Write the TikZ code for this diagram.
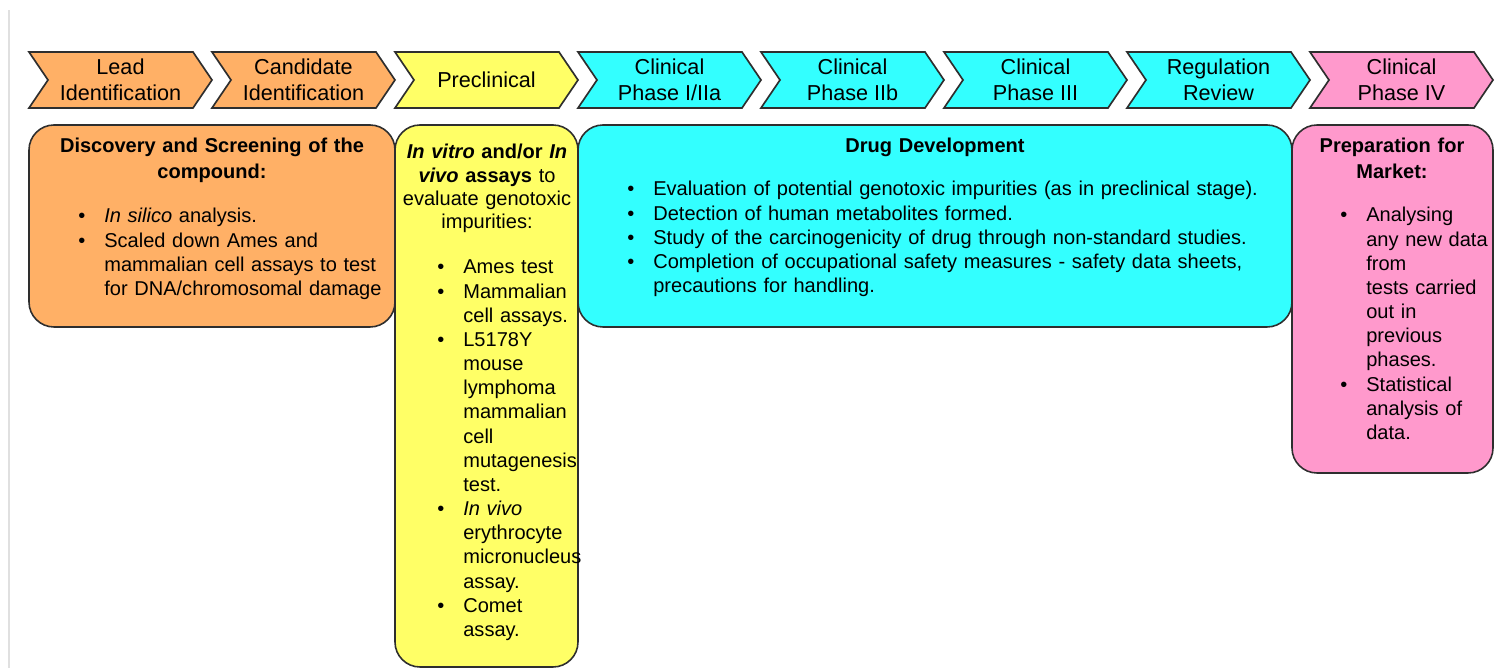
\documentclass[tikz,border=0pt]{standalone}
\usepackage{fontspec}
\setmainfont{Liberation Sans}
\usepackage{tikz}
\usetikzlibrary{positioning}
\definecolor{devOrange}{HTML}{FFB066}
\definecolor{devYellow}{HTML}{FFFF66}
\definecolor{devCyan}{HTML}{33FFFF}
\definecolor{devPink}{HTML}{FF99CC}
\definecolor{devEdge}{HTML}{2E2E2E}
\tikzset{
  ph/chevron/.style={draw=devEdge, line width=0.95pt, line join=miter},
  ph/label/.style={font=\fontsize{12.3}{14.7}\selectfont, align=center, inner sep=0pt},
  ph/box/.style={draw=devEdge, line width=0.9pt, rounded corners=0.5cm},
  ph/title/.style={font=\fontsize{11.4}{14.7}\selectfont\bfseries, align=center, inner sep=0pt, anchor=base},
  ph/list/.style={font=\fontsize{11.4}{13.75}\selectfont, align=left, inner sep=0pt, anchor=base west}
}
\newcommand\bul{\leavevmode\llap{\textbullet\hspace{0.38cm}}}

\begin{document}
\begin{tikzpicture}[x=0.02cm,y=-0.02cm]
\useasboundingbox (0,0) rectangle (1502,668);

\draw[black!12, line width=0.04cm] (9,10) -- (9,668);

\foreach \i/\lbl/\col in {0/{Lead\\Identification}/devOrange, 1/{Candidate\\Identification}/devOrange,
    2/{Preclinical}/devYellow, 3/{Clinical\\Phase I/IIa}/devCyan, 4/{Clinical\\Phase IIb}/devCyan,
    5/{Clinical\\Phase III}/devCyan, 6/{Regulation\\Review}/devCyan, 7/{Clinical\\Phase IV}/devPink} {
  \draw[ph/chevron, fill=\col, shift={(\i*183,0)}] (29,52) -- (193,52) -- (212,80) -- (193,108) -- (29,108) -- (48,80) -- cycle;
  \node[ph/label] (stage\i) at (120.5+\i*183,80) {\lbl};
}

\draw[ph/box, fill=devOrange] (29,125) rectangle (395,327);
\draw[ph/box, fill=devYellow] (395,125) rectangle (578,667);
\draw[ph/box, fill=devCyan] (578,125) rectangle (1292,327);
\draw[ph/box, fill=devPink] (1292,125) rectangle (1493,473);

\node[ph/title, text width=7cm] (discTitle) at (212,153) {Discovery and Screening of the\\compound:};
\node[ph/list, text width=6.5cm] (discList) at (104,223)
  {\bul\textit{In silico} analysis.\\\bul Scaled down Ames and\\mammalian cell assays to test\\for DNA/chromosomal damage};

\node[ph/title, text width=4cm, font=\fontsize{11.4}{13.1}\selectfont\bfseries] (assayTitle) at (487,159)
  {\textit{In vitro} and/or \textit{In}\\\textit{vivo} assays {\mdseries to}\\{\mdseries evaluate genotoxic}\\{\mdseries impurities:}};
\node[ph/list, text width=3cm] (assayList) at (463,274)
  {\bul Ames test\\\bul Mammalian\\cell assays.\\\bul L5178Y\\mouse\\lymphoma\\mammalian\\cell\\mutagenesis\\test.\\\bul\textit{In vivo}\\erythrocyte\\micronucleus\\assay.\\\bul Comet\\assay.};

\node[ph/title, text width=8cm] (drugTitle) at (935,153) {Drug Development};
\node[ph/list, text width=12.5cm] (drugList) at (653,196)
  {\bul Evaluation of potential genotoxic impurities (as in preclinical stage).\\\bul Detection of human metabolites formed.\\\bul Study of the carcinogenicity of drug through non-standard studies.\\\bul Completion of occupational safety measures - safety data sheets,\\precautions for handling.};

\node[ph/title, text width=3.8cm] (marketTitle) at (1392,153) {Preparation for\\Market:};
\node[ph/list, text width=2.6cm] (marketList) at (1366,222)
  {\bul Analysing\\any new data\\from\\tests carried\\out in\\previous\\phases.\\\bul Statistical\\analysis of\\data.};

\end{tikzpicture}
\end{document}
